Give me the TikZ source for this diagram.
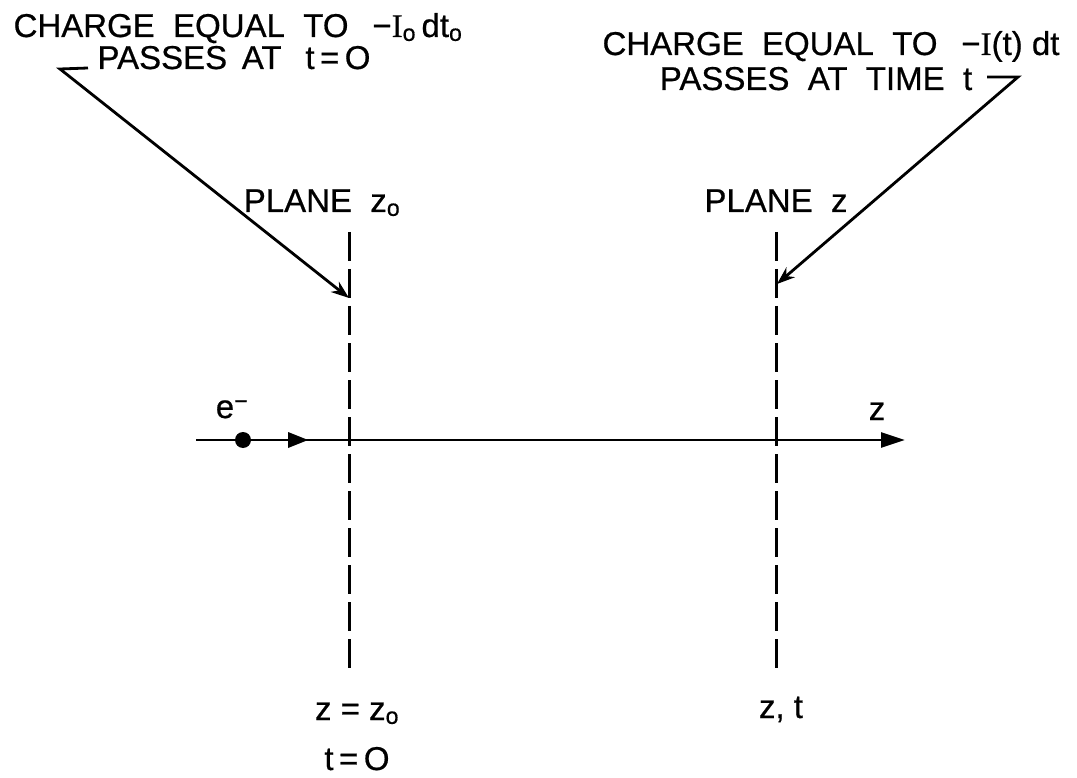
\documentclass[tikz,border=0pt]{standalone}
\usepackage{fontspec}
\setmainfont{Liberation Sans}
\newfontfamily\serifI{Liberation Serif}
\usetikzlibrary{arrows.meta}
\tikzset{
  lbl/.style={font=\fontsize{33}{35}\selectfont\addfontfeature{FakeBold=0.6}, inner sep=0pt, anchor=base},
  plane/.style={line width=3pt, dash pattern=on 29pt off 8pt},
  leader/.style={line width=2.8pt, -{Stealth[length=18pt,width=13pt]}, line join=miter},
  axis/.style={line width=2.8pt, -{Triangle[length=24pt,width=15pt]}}
}
\begin{document}
\begin{tikzpicture}[x=1pt,y=-1pt]
\useasboundingbox (0,0) rectangle (1077,778);
% texts
\node[lbl] (t1a) at (238,37) {CHARGE\; EQUAL\; TO\;\, −{\serifI\addfontfeature{FakeBold=0.6}I}\textsubscript{o}\,dt\textsubscript{o}};
\node[lbl] (t1b) at (234,69) {PASSES\, AT\;\, t\,=\,O};
\node[lbl] (t2a) at (831,55) {CHARGE\; EQUAL\; TO\;\, −{\serifI\addfontfeature{FakeBold=0.6}I}(t) dt};
\node[lbl] (t2b) at (816,90) {PASSES\; AT\; TIME\; t};
\node[lbl] (pl1) at (322,212) {PLANE\; z\textsubscript{o}};
\node[lbl] (pl2) at (776,212) {PLANE\; z};
\node[lbl] (el) at (232,418) {e\textsuperscript{−}};
\node[lbl] (zl) at (877,420) {z};
\node[lbl] (b1) at (357,720) {z = z\textsubscript{o}};
\node[lbl] (b2) at (357,770) {t\,=\,O};
\node[lbl] (b3) at (781,718) {z, t};
% planes
\coordinate (p1t) at (349,232);
\coordinate (p1b) at (349,668);
\coordinate (p2t) at (776,232);
\coordinate (p2b) at (776,668);
\draw[plane] (p1t) -- (p1b);
\draw[plane] (p2t) -- (p2b);
% axis
\coordinate (axs) at (196,440);
\coordinate (axe) at (905,440);
\draw[axis] (axs) -- (axe);
\node[circle, fill=black, inner sep=0pt, minimum size=16pt] (dot) at (243,440) {};
\fill (288,432) -- (308,440) -- (288,448) -- cycle;
% leaders
\coordinate (h1s) at (88,68);
\coordinate (h1c) at (60,69);
\coordinate (hit1) at (349,298);
\draw[leader] (h1s) -- (h1c) -- (hit1);
\coordinate (h2s) at (987,77);
\coordinate (h2c) at (1018,77);
\coordinate (hit2) at (777,284);
\draw[leader] (h2s) -- (h2c) -- (hit2);
\end{tikzpicture}
\end{document}
